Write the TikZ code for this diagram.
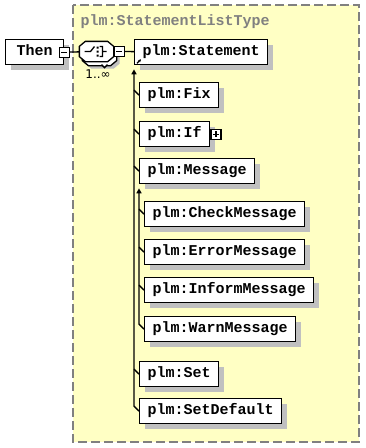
\documentclass[tikz,border=0pt]{standalone}
\usepackage{fontspec}
\setmonofont{Liberation Mono}
\newfontfamily\cardfont{DejaVu Sans}
\usetikzlibrary{arrows.meta}

\definecolor{typebg}{RGB}{255,255,196}
\definecolor{typeline}{RGB}{128,128,128}
\definecolor{shadowgray}{RGB}{192,192,192}

% octagon of a compositor node
\newcommand\octoutline[1]{([xshift=6pt]#1.north west) -- ([xshift=-6pt]#1.north east)
  -- ([yshift=-5pt]#1.north east) -- ([yshift=5pt]#1.south east)
  -- ([xshift=-6pt]#1.south east) -- ([xshift=6pt]#1.south west)
  -- ([yshift=5pt]#1.south west) -- ([yshift=-5pt]#1.north west) -- cycle}

\tikzset{
  elem/.style={draw, fill=white, anchor=north west,
    minimum height=25pt, inner xsep=8pt, inner ysep=2pt,
    text height=10pt, text depth=3pt,
    font=\ttfamily\bfseries\fontsize{15}{15}\selectfont,
    preaction={fill=shadowgray, transform canvas={shift={(5pt,-5pt)}}}},
  toggle/.style={draw, fill=white, minimum size=10pt, inner sep=0pt},
  minus/.style={toggle, path picture={
    \draw ([xshift=2pt]path picture bounding box.west) -- ([xshift=-2pt]path picture bounding box.east);}},
  plus/.style={toggle, path picture={
    \draw ([xshift=2pt]path picture bounding box.west) -- ([xshift=-2pt]path picture bounding box.east)
          ([yshift=2pt]path picture bounding box.south) -- ([yshift=-2pt]path picture bounding box.north);}},
  seqbox/.style={minimum width=33pt, minimum height=19pt, inner sep=0pt},
  subst/.style={-{Triangle[length=5pt,width=5pt]}},
}

\begin{document}
\begin{tikzpicture}[x=1pt,y=-1pt,line width=1.3pt]
  \useasboundingbox (0,0) rectangle (365,448);
  \fill[white] (0,0) rectangle (365,448);

  % complex type area
  \draw[typeline, fill=typebg, line width=1.3pt, dash pattern=on 9pt off 4pt] (73,5) rectangle (359,442);
  \node[anchor=base west, inner sep=0pt, text=typeline,
        font=\ttfamily\bfseries\fontsize{15}{15}\selectfont] (title) at (80,25) {plm:StatementListType};

  \node[elem, minimum width=58pt] (then) at (5,39) {Then};
  \node[minus] (thenmin) at (then.east) {};

  % sequence 1..oo
  \node[seqbox] (seq) at (96.5,51.5) {};
  \fill[shadowgray, transform canvas={shift={(6pt,-7pt)}}] \octoutline{seq};
  \draw[fill=white, transform canvas={shift={(3pt,-4pt)}}] \octoutline{seq};
  \draw[fill=white] ([shift={(5,3)}]seq.south) -- ++(3,3) -- ++(3,-3);
  \draw[fill=white] \octoutline{seq};
  \draw[shift={(seq.center)}] (-12,0) -- (-6,0) -- (-2,-5)
    (3,-5) -- (6,-5) -- (6,5) -- (3,5) (6,0) -- (10,0);
  \fill[shift={(seq.center)}] (0,-5) rectangle (2,-3) (0,-1) rectangle (2,1) (0,3) rectangle (2,5);
  \node[minus, anchor=west] (seqmin) at (seq.east) {};
  \node[inner sep=0pt, font=\cardfont\fontsize{12}{12}\selectfont] (card) at (98,74) {1..∞};

  \node[elem] (stmt) at (134,39) {plm:Statement};
  \draw[-{Stealth[length=3pt,width=3pt]}] ([shift={(3,-2)}]stmt.south west) -- ++(4,-4);

  \node[elem] (fix) at (139,82) {plm:Fix};
  \node[elem] (if) at (139,121) {plm:If};
  \node[plus, anchor=west] (ifplus) at (if.east) {};
  \node[elem] (msg) at (139,158) {plm:Message};
  \node[elem] (check) at (144,201) {plm:CheckMessage};
  \node[elem] (error) at (144,239) {plm:ErrorMessage};
  \node[elem] (inform) at (144,277) {plm:InformMessage};
  \node[elem] (warn) at (144,316) {plm:WarnMessage};
  \node[elem] (set) at (139,361) {plm:Set};
  \node[elem] (setdef) at (139,398) {plm:SetDefault};

  \draw (thenmin) -- (seq);
  \draw (seqmin) -- (stmt);

  % substitution groups
  \draw[subst] (setdef.west) -- ++(-5,-5) -- ([yshift=-4pt]stmt.south west);
  \foreach \n in {fix,if,msg,set}
    \draw (\n.west) -- ++(-5,-5);
  \draw[subst] (warn.west) -- ++(-5,-5) -- ([yshift=-4pt]msg.south west);
  \foreach \n in {check,error,inform}
    \draw (\n.west) -- ++(-5,-5);
\end{tikzpicture}
\end{document}
